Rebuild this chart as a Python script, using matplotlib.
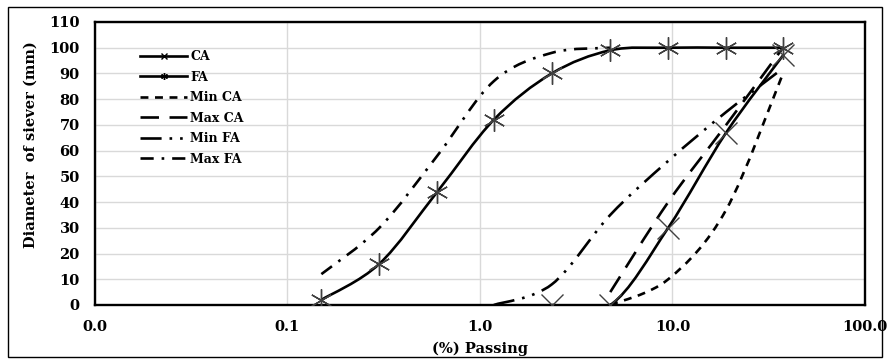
import numpy as np
import matplotlib
matplotlib.use("Agg")
import matplotlib.pyplot as plt
from matplotlib.path import Path
from matplotlib.patches import PathPatch, Rectangle
from matplotlib.lines import Line2D

plt.rcParams['font.family'] = 'DejaVu Serif'
plt.rcParams['font.weight'] = 'bold'

# sieve sizes (x axis, log scale)
sieve = [0.15, 0.3, 0.6, 1.18, 2.36, 4.75, 9.5, 19, 37.5]

# measured gradings
ca_x = [2.36, 4.75, 9.5, 19, 37.5]
ca_y = [0, 0, 30, 67, 97]
fa_x = sieve
fa_y = [2, 16, 44, 72, 90, 99, 100, 100, 100]

# limits
min_ca_x = [4.75, 9.5, 19, 37.5]
min_ca_y = [0, 10, 37, 90]
max_ca_x = [4.75, 9.5, 19, 37.5]
max_ca_y = [5, 40, 70, 100]
min_fa_x = [1.18, 2.36, 4.75, 9.5, 19, 37.5]
min_fa_y = [0, 8, 35, 56, 75, 92]
max_fa_x = [0.15, 0.3, 0.6, 1.18, 2.36, 4.75]
max_fa_y = [12, 30, 58, 87, 98, 100]

xtick_vals = [0.01, 0.1, 1, 10, 100]
xtick_labels = ['0.0', '0.1', '1.0', '10.0', '100.0']


def smooth_path(x, y):
    # Excel-like smoothed line: cubic bezier (catmull-rom) in log-x space
    lx = np.log10(np.asarray(x, float))
    ly = np.asarray(y, float)
    pts = np.column_stack([lx, ly])
    n = len(pts)
    verts = [pts[0]]
    codes = [Path.MOVETO]
    for i in range(n - 1):
        p0 = pts[i - 1] if i > 0 else pts[i]
        p1 = pts[i]
        p2 = pts[i + 1]
        p3 = pts[i + 2] if i + 2 < n else pts[i + 1]
        c1 = p1 + (p2 - p0) / 6.0
        c2 = p2 - (p3 - p1) / 6.0
        verts += [c1, c2, p2]
        codes += [Path.CURVE4] * 3
    verts = np.array(verts)
    verts[:, 0] = 10 ** verts[:, 0]
    return Path(verts, codes)


fig = plt.figure(figsize=(8.9, 3.63), dpi=100)
ax = fig.add_axes([0.1067, 0.1598, 0.8652, 0.7796])

ax.set_xscale('log')
ax.set_xlim(0.01, 100)
ax.set_ylim(0, 110)
ax.set_yticks(range(0, 111, 10))
ax.set_xticks(xtick_vals)
ax.set_xticklabels(xtick_labels)
ax.xaxis.set_minor_locator(matplotlib.ticker.NullLocator())
ax.tick_params(length=0, labelsize=10.5, pad=11)
ax.grid(True, color='#d9d9d9', lw=1)
ax.set_axisbelow(True)
for s in ax.spines.values():
    s.set_linewidth(1.7)

lw = 1.9
styles = {
    'CA': dict(ls='-'),
    'FA': dict(ls='-'),
    'Min CA': dict(ls=(0, (3, 2.5))),
    'Max CA': dict(ls=(0, (7, 4))),
    'Min FA': dict(ls=(0, (8, 3, 1, 3, 1, 3))),
    'Max FA': dict(ls=(0, (5, 3, 1, 3))),
}
series = [
    ('CA', ca_x, ca_y),
    ('FA', fa_x, fa_y),
    ('Min CA', min_ca_x, min_ca_y),
    ('Max CA', max_ca_x, max_ca_y),
    ('Min FA', min_fa_x, min_fa_y),
    ('Max FA', max_fa_x, max_fa_y),
]
for name, xs, ys in series:
    patch = PathPatch(smooth_path(xs, ys), fill=False, edgecolor='black',
                      lw=lw, linestyle=styles[name]['ls'], capstyle='butt', zorder=3)
    ax.add_patch(patch)

# markers
ax.plot(ca_x, ca_y, ls='none', marker='x', ms=16, mew=1.0, color='#404040', zorder=4)
ax.plot(fa_x, fa_y, ls='none', marker=(6, 2, 0), ms=16, mew=1.0, color='#404040', zorder=4)

handles = [
    Line2D([], [], color='black', lw=lw, marker='x', ms=5, mew=1),
    Line2D([], [], color='black', lw=lw, marker=(6, 2, 0), ms=5, mew=1),
]
for name in ['Min CA', 'Max CA', 'Min FA', 'Max FA']:
    handles.append(Line2D([], [], color='black', lw=lw, ls=styles[name]['ls']))
ax.legend(handles, ['CA', 'FA', 'Min CA', 'Max CA', 'Min FA', 'Max FA'],
          loc='upper left', bbox_to_anchor=(0.059, 0.90), frameon=False,
          fontsize=9, handlelength=3.7, handletextpad=0.3, labelspacing=0.6,
          borderaxespad=0, borderpad=0)

ax.set_xlabel('(%) Passing', fontsize=10.5, fontweight='bold', labelpad=5)
ax.set_ylabel('Diameter  of siever (mm)', fontsize=10.5, fontweight='bold')
ax.yaxis.set_label_coords(-0.075, 0.565)

# outer frame around the whole chart
fig.patches.append(Rectangle((0.009, 0.017), 0.982, 0.963, transform=fig.transFigure,
                             fill=False, edgecolor='black', lw=1))

fig.savefig('out.png', dpi=100)
